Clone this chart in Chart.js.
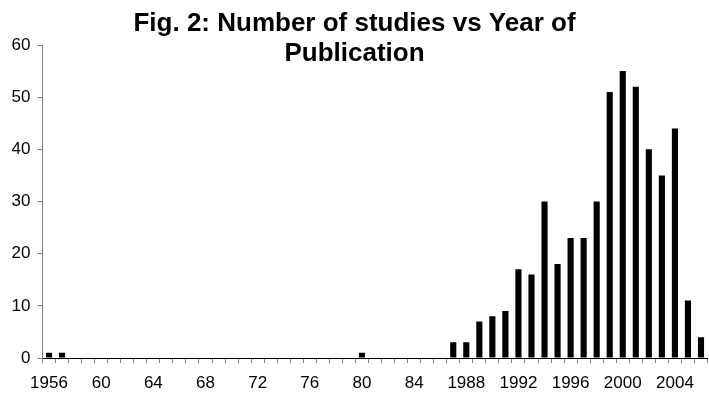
<!DOCTYPE html>
<html>
<head>
<meta charset="utf-8">
<script src="https://cdn.jsdelivr.net/npm/chart.js@4/dist/chart.umd.min.js"></script>
<style>
  html, body { margin: 0; padding: 0; background: #fff; overflow: hidden; }
  /* plot runs 2px past the right edge, like the original */
  #wrap { width: 711px; height: 400px; position: relative; }
</style>
</head>
<body>
<div id="wrap"><canvas id="chart"></canvas></div>
<script>
// years on the x axis, one bar each
const years = [
  '1956','1957','1958','1959','1960','1961','1962','1963','1964','1965',
  '1966','1967','1968','1969','1970','1971','1972','1973','1974','1975',
  '1976','1977','1978','1979','1980','1981','1982','1983','1984','1985',
  '1986','1987','1988','1989','1990','1991','1992','1993','1994','1995',
  '1996','1997','1998','1999','2000','2001','2002','2003','2004','2005',
  '2006'
];

// number of studies per year
const studies = [
  1, 1, 0, 0, 0, 0, 0, 0, 0, 0,
  0, 0, 0, 0, 0, 0, 0, 0, 0, 0,
  0, 0, 0, 0, 1, 0, 0, 0, 0, 0,
  0, 3, 3, 7, 8, 9, 17, 16, 30, 18,
  23, 23, 30, 51, 55, 52, 40, 35, 44, 11,
  4
];

// labels shown under every 4th year
const xTickLabels = ['1956','60','64','68','72','76','80','84','1988','1992','1996','2000','2004'];
const yTicks = [0, 10, 20, 30, 40, 50, 60];

const titleLines = ['Fig. 2: Number of studies vs Year of', 'Publication'];

const FONT = "Arial, 'Liberation Sans', sans-serif";

// title is drawn by hand because it overlaps the top of the plot area
const titlePlugin = {
  id: 'twoLineTitle',
  afterDraw(chart) {
    const ctx = chart.ctx;
    ctx.save();
    ctx.fillStyle = '#000';
    ctx.font = 'bold 26px ' + FONT;
    ctx.textAlign = 'center';
    ctx.textBaseline = 'alphabetic';
    ctx.fillText(titleLines[0], 354.5, 31);
    ctx.fillText(titleLines[1], 354.5, 61);
    ctx.restore();
  }
};

new Chart(document.getElementById('chart'), {
  type: 'bar',
  data: {
    labels: years,
    datasets: [{
      data: studies,
      backgroundColor: '#000',
      borderWidth: 0,
      categoryPercentage: 1,
      barPercentage: 0.47
    }]
  },
  options: {
    responsive: true,
    maintainAspectRatio: false,
    animation: false,
    layout: { padding: { top: 45, right: 0, bottom: 0, left: 0 } },
    plugins: {
      legend: { display: false },
      title: { display: false },
      tooltip: { enabled: false }
    },
    scales: {
      x: {
        offset: true,
        afterFit: s => { s.height = 42; },
        border: { display: true, color: '#000', width: 1 },
        grid: {
          offset: true,
          drawOnChartArea: false,
          drawTicks: true,
          tickLength: 5,
          color: '#808080'
        },
        ticks: {
          autoSkip: false,
          maxRotation: 0,
          minRotation: 0,
          padding: 10,
          color: '#000',
          font: { family: FONT, size: 17 },
          callback: (v, i) => (i % 4 === 0 ? xTickLabels[i / 4] : '')
        }
      },
      y: {
        min: 0,
        max: 60,
        afterFit: s => { s.width = 42.5; },
        afterBuildTicks: s => { s.ticks = yTicks.map(v => ({ value: v })); },
        border: { display: true, color: '#808080', width: 1 },
        grid: {
          drawOnChartArea: false,
          drawTicks: true,
          tickLength: 5,
          color: '#808080'
        },
        ticks: {
          padding: 7,
          color: '#000',
          font: { family: FONT, size: 17 }
        }
      }
    }
  },
  plugins: [titlePlugin]
});
</script>
</body>
</html>
